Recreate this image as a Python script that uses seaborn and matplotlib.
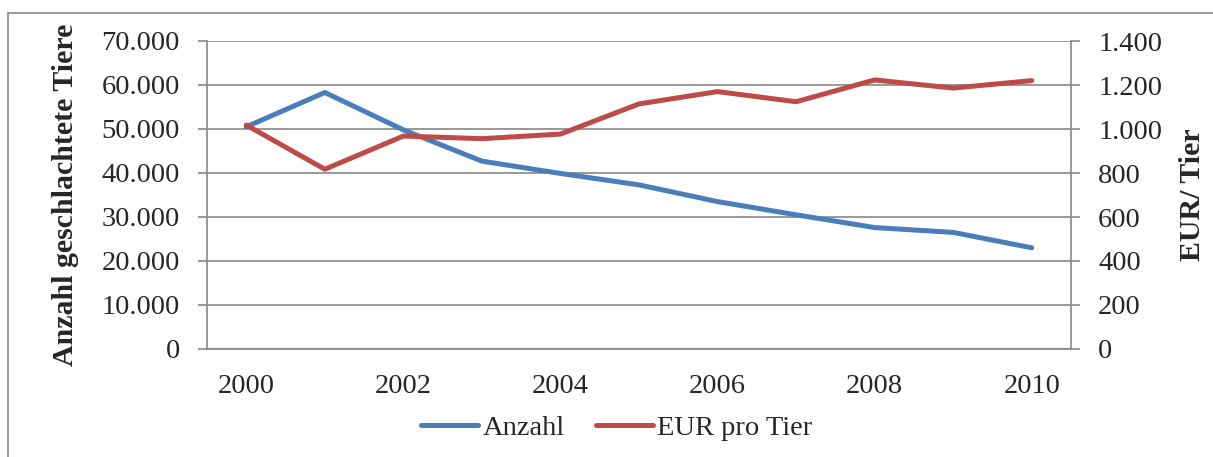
import matplotlib

matplotlib.use("Agg")
import matplotlib.pyplot as plt
import pandas as pd
import seaborn as sns
from matplotlib.patches import Rectangle
from matplotlib.ticker import FuncFormatter

years = [2000, 2001, 2002, 2003, 2004, 2005, 2006, 2007, 2008, 2009, 2010]
anzahl = [50500, 58300, 49800, 42700, 39900, 37300, 33500, 30500, 27600, 26500, 23000]
eur_pro_tier = [1018, 817, 968, 956, 977, 1114, 1170, 1124, 1223, 1186, 1220]
x_ticks = [2000, 2002, 2004, 2006, 2008, 2010]
left_ticks = [0, 10000, 20000, 30000, 40000, 50000, 60000, 70000]
right_ticks = [0, 200, 400, 600, 800, 1000, 1200, 1400]

BLUE = "#4A7EBB"
RED = "#BE4B48"
GRID = "#878787"
FS = 20.5

sns.set_theme(style="white")
plt.rcParams["font.family"] = ["Liberation Serif", "DejaVu Serif"]

df = pd.DataFrame({"year": years, "anzahl": anzahl, "eur": eur_pro_tier})


def dotted(v, _pos=None):
    return f"{int(v):,}".replace(",", ".")


fig = plt.figure(figsize=(12.13, 4.57), dpi=100)
ax = fig.add_axes([207 / 1213, 1 - 349 / 457, 864 / 1213, 308 / 457])
ax2 = ax.twinx()

sns.lineplot(data=df, x="year", y="anzahl", ax=ax, color=BLUE, linewidth=3.6,
             label="Anzahl", legend=False)
sns.lineplot(data=df, x="year", y="eur", ax=ax2, color=RED, linewidth=3.6,
             label="EUR pro Tier", legend=False)

ax.set_xlim(1999.5, 2010.5)
ax.set_ylim(0, 70000)
ax2.set_ylim(0, 1400)
ax.set_xticks(x_ticks)
ax.set_yticks(left_ticks)
ax2.set_yticks(right_ticks)
ax.yaxis.set_major_formatter(FuncFormatter(dotted))
ax2.yaxis.set_major_formatter(FuncFormatter(dotted))

ax.grid(axis="y", color=GRID, linewidth=1.2)
ax.grid(axis="x", visible=False)
ax.set_axisbelow(True)

for a in (ax, ax2):
    a.spines["top"].set_visible(False)
    for s in ("left", "right", "bottom"):
        a.spines[s].set_color(GRID)
        a.spines[s].set_linewidth(1.2)
ax.spines["right"].set_visible(False)
ax2.spines["left"].set_visible(False)
ax2.spines["bottom"].set_visible(False)

ax.tick_params(axis="y", direction="out", length=6.5, width=1.2, color=GRID,
               labelsize=FS, pad=13, left=True)
ax.tick_params(axis="x", length=0, labelsize=FS, pad=18)
ax2.tick_params(axis="y", direction="out", length=6.5, width=1.2, color=GRID,
                labelsize=FS, pad=13, right=True)

ax.set_xlabel("")
ax.set_ylabel("Anzahl geschlachtete Tiere", fontsize=21.5, fontweight="bold", labelpad=16)
ax2.set_ylabel("EUR/ Tier", fontsize=21.5, fontweight="bold", labelpad=12)

handles = ax.get_lines()[:1] + ax2.get_lines()[:1]
fig.legend(handles, ["Anzahl", "EUR pro Tier"], loc="center",
           bbox_to_anchor=(617 / 1213, 1 - 428 / 457), ncol=2, frameon=False,
           fontsize=FS, handlelength=2.0, handletextpad=0.15, columnspacing=1.1)

fig.patches.append(Rectangle((8 / 1213, -0.1), 1.2, 1 - 13 / 457 + 0.1,
                             transform=fig.transFigure, fill=False,
                             edgecolor=GRID, linewidth=1.2))

fig.savefig("out.png", dpi=100)
